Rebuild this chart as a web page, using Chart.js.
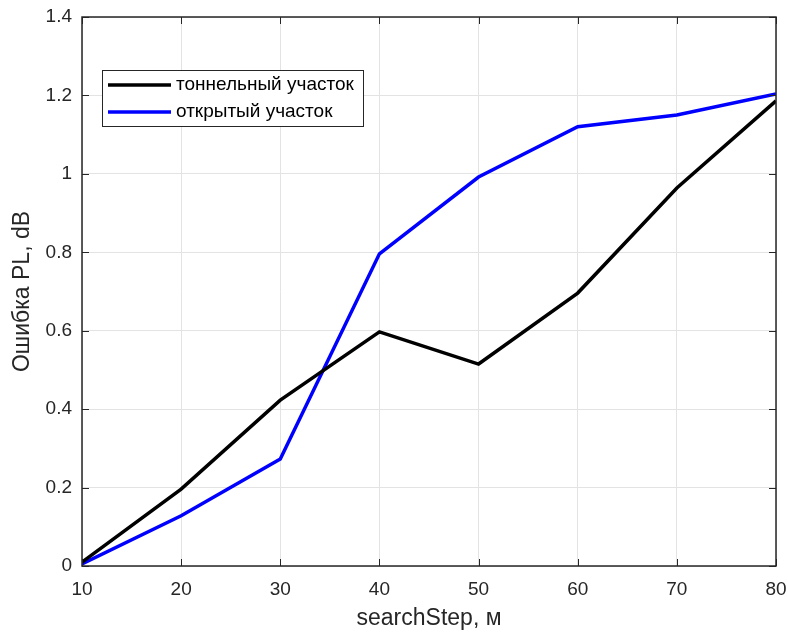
<!DOCTYPE html>
<html><head><meta charset="utf-8">
<script src="https://cdn.jsdelivr.net/npm/chart.js@4.4.0/dist/chart.umd.min.js"></script>
<style>html,body{margin:0;padding:0;background:#fff;}#wrap{width:788px;height:632px;}</style>
</head><body><div id="wrap"><canvas id="c" width="788" height="632"></canvas></div>
<script>
const categories = [10, 20, 30, 40, 50, 60, 70, 80];
const tunnelValues = [0.010, 0.196, 0.423, 0.597, 0.515, 0.696, 0.964, 1.186];
const openValues = [0.005, 0.128, 0.273, 0.796, 0.992, 1.120, 1.150, 1.204];
const seriesLabels = ['тоннельный участок', 'открытый участок'];
const xTitle = 'searchStep, м';
const yTitle = 'Ошибка PL, dB';

const FONT = '"Liberation Sans", Arial, sans-serif';
const TXT = '#262626';

const boxPlugin = {
  id: 'boxPlugin',
  afterDatasetsDraw(chart) {
    const {ctx, chartArea: a, scales: {x, y}} = chart;
    ctx.save();
    ctx.strokeStyle = TXT; ctx.lineWidth = 1;
    ctx.beginPath();
    categories.forEach(v => {
      const px = Math.round(x.getPixelForValue(v)) + 0.5;
      ctx.moveTo(px, a.bottom); ctx.lineTo(px, a.bottom - 7);
      ctx.moveTo(px, a.top); ctx.lineTo(px, a.top + 7);
    });
    for (let v = 0; v <= 1.4001; v += 0.2) {
      const py = Math.round(y.getPixelForValue(v)) + 0.5;
      ctx.moveTo(a.left, py); ctx.lineTo(a.left + 7, py);
      ctx.moveTo(a.right, py); ctx.lineTo(a.right - 7, py);
    }
    ctx.stroke();
    ctx.lineWidth = 1.5;
    ctx.strokeStyle = TXT;
    ctx.strokeRect(a.left, a.top, a.right - a.left, a.bottom - a.top);
    // legend
    const lx = 102, ly = 70, lw = 261, lh = 56;
    ctx.fillStyle = '#fff';
    ctx.fillRect(lx, ly, lw, lh);
    ctx.lineWidth = 1;
    ctx.strokeStyle = TXT;
    ctx.strokeRect(lx + 0.5, ly + 0.5, lw, lh);
    const ds = chart.data.datasets;
    const rows = [85, 112];
    ds.forEach((d, i) => {
      ctx.strokeStyle = d.borderColor; ctx.lineWidth = 3.5;
      ctx.beginPath(); ctx.moveTo(108, rows[i]); ctx.lineTo(171, rows[i]); ctx.stroke();
      ctx.fillStyle = '#000';
      ctx.font = '19px ' + FONT;
      ctx.textBaseline = 'middle';
      ctx.textAlign = 'left';
      ctx.fillText(d.label, 176, rows[i]);
    });
    ctx.restore();
  }
};

new Chart(document.getElementById('c'), {
  type: 'line',
  data: {
    datasets: [
      {label: seriesLabels[0], data: categories.map((c, i) => ({x: c, y: tunnelValues[i]})), borderColor: '#000000', borderWidth: 3.5, pointRadius: 0, tension: 0, fill: false},
      {label: seriesLabels[1], data: categories.map((c, i) => ({x: c, y: openValues[i]})), borderColor: '#0000ff', borderWidth: 3.5, pointRadius: 0, tension: 0, fill: false}
    ]
  },
  options: {
    responsive: false,
    animation: false,
    layout: {padding: {top: 17, right: 12, left: 0, bottom: 0}},
    plugins: {legend: {display: false}, tooltip: {enabled: false}},
    scales: {
      x: {
        type: 'linear', min: 10, max: 80,
        afterBuildTicks: s => { s.ticks = categories.map(v => ({value: v})); },
        afterFit: s => { s.height = 66; s.paddingLeft = 0; s.paddingRight = 0; },
        grid: {color: '#e3e3e3', drawTicks: false, lineWidth: 1},
        border: {display: false},
        ticks: {color: TXT, font: {family: FONT, size: 19}, padding: 12, maxRotation: 0},
        title: {display: true, text: xTitle, color: TXT, font: {family: FONT, size: 23}, padding: {top: 0, bottom: 0}}
      },
      y: {
        min: 0, max: 1.4,
        afterFit: s => { s.width = 82; s.paddingTop = 0; s.paddingBottom = 0; },
        grid: {color: '#e3e3e3', drawTicks: false, lineWidth: 1},
        border: {display: false},
        ticks: {stepSize: 0.2, color: TXT, font: {family: FONT, size: 19}, padding: 10,
          callback: v => { const r = Math.round(v * 10) / 10; return r === 0 ? '0' : (r === 1 ? '1' : r.toFixed(1)); }},
        title: {display: true, text: yTitle, color: TXT, font: {family: FONT, size: 23}, padding: {top: 9, bottom: 0}}
      }
    }
  },
  plugins: [boxPlugin]
});
</script></body></html>
